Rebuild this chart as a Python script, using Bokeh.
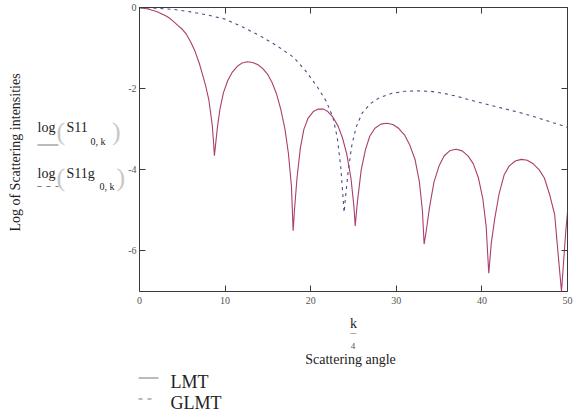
import math
from bokeh.plotting import figure
from bokeh.models import Range1d, LinearAxis, FixedTicker, Label, Arrow
from bokeh.embed import file_html
from bokeh.resources import INLINE

# ---------------- data ----------------
lmt_x = [0, 1, 2, 3, 3.4, 4, 4.5, 5, 5.4, 6, 6.5, 7, 7.3, 7.7, 8.1, 8.5, 8.68,
         8.75,
         9.1, 9.4, 9.8, 10.3, 10.8, 11.4, 12.0, 12.6, 13.2, 13.8, 14.4, 15.0,
         15.5, 16.0, 16.5, 17.0, 17.4, 17.75, 17.95,
         18.1, 18.4, 18.8, 19.2, 19.7, 20.3, 20.9, 21.5, 22.0, 22.6, 23.2,
         23.7, 24.2, 24.7, 25.05, 25.2,
         25.45, 25.9, 26.4, 26.9, 27.5, 28.2, 28.9, 29.6, 30.3, 31.0, 31.6,
         32.2, 32.7, 33.05, 33.25,
         33.5, 33.9, 34.4, 35.0, 35.6, 36.3, 37.0, 37.7, 38.4, 39.0, 39.6,
         40.1, 40.5, 40.8,
         41.1, 41.5, 42.0, 42.6, 43.2, 43.9, 44.6, 45.3, 46.0, 46.7, 47.3,
         47.9, 48.5, 49.0, 49.3, 49.6, 49.8, 50.0]
lmt_y = [0, -0.03, -0.09, -0.19, -0.24, -0.34, -0.44, -0.53, -0.63, -0.85,
         -1.08, -1.38, -1.6, -1.9, -2.27, -2.9, -3.4, -3.65,
         -2.95, -2.5, -2.1, -1.8, -1.6, -1.45, -1.36, -1.33, -1.35, -1.4,
         -1.5, -1.65, -1.85, -2.12, -2.5, -3.0, -3.6, -4.4, -5.5,
         -5.0, -4.2, -3.45, -3.0, -2.72, -2.56, -2.5, -2.5, -2.56, -2.7, -2.92,
         -3.2, -3.6, -4.2, -4.9, -5.38,
         -4.8, -4.0, -3.5, -3.17, -2.97, -2.87, -2.85, -2.88, -2.98, -3.15,
         -3.4, -3.75, -4.3, -5.0, -5.83,
         -5.5, -4.9, -4.3, -3.9, -3.65, -3.52, -3.49, -3.53, -3.66, -3.85,
         -4.2, -4.7, -5.4, -6.55,
         -5.8, -5.2, -4.6, -4.12, -3.9, -3.78, -3.74, -3.76, -3.85, -4.0,
         -4.2, -4.6, -5.1, -6.3, -7.0, -6.1, -5.5, -5.05]

glmt_x = [0, 2, 4, 6, 8, 10, 12, 14, 16, 18, 19.5, 20.8, 21.8, 22.6, 23.1,
          23.5, 23.75, 23.9, 24.1, 24.4, 24.8, 25.3, 26.0, 27.0, 28.0, 29.5,
          31.0, 32.5, 34.0, 35.5, 37.0, 38.5, 40.0, 41.5, 43.0, 44.5, 46.0,
          47.5, 49.0, 50.0]
glmt_y = [0, -0.01, -0.04, -0.1, -0.18, -0.28, -0.47, -0.68, -0.93, -1.22,
          -1.58, -1.96, -2.3, -2.7, -3.2, -3.9, -4.6, -5.05, -4.6, -4.0, -3.4,
          -2.95, -2.6, -2.36, -2.22, -2.11, -2.06, -2.05, -2.06, -2.11, -2.18,
          -2.27, -2.35, -2.43, -2.51, -2.59, -2.68, -2.78, -2.88, -2.95]

x_ticks = [0, 10, 20, 30, 40, 50]
y_ticks = [0, -2, -4, -6]
x_tick_labels = ["0", "10", "20", "30", "40", "50"]
y_tick_labels = ["0", "-2", "-4", "-6"]
X_MIN, X_MAX = 0, 50
Y_MIN, Y_MAX = -7, 0

# ---------------- layout (canvas pixels of the plot box) ----------------
W, H = 575, 413
BOX_L, BOX_R, BOX_T, BOX_B = 139.0, 567.0, 7.3, 291.0
XS = (BOX_R - BOX_L) / (X_MAX - X_MIN)
YS = (BOX_B - BOX_T) / (Y_MAX - Y_MIN)

p = figure(width=W, height=H, output_backend="svg", toolbar_location=None,
           x_range=Range1d(X_MIN - BOX_L / XS, X_MAX + (W - BOX_R) / XS),
           y_range=Range1d(Y_MIN - (H - BOX_B) / YS, Y_MAX + BOX_T / YS),
           x_axis_type=None, y_axis_type=None,
           min_border_left=0, min_border_right=0, min_border_top=0,
           min_border_bottom=0)
p.background_fill_color = "white"
p.border_fill_color = "white"
p.outline_line_color = None
p.grid.visible = False

SERIF = "Liberation Serif"
AX_COL = "#3a3a3a"

def make_axis(ticks, labels, loc, bounds, show_labels, standoff):
    ax = LinearAxis(ticker=FixedTicker(ticks=ticks), fixed_location=loc,
                    bounds=bounds)
    ax.major_label_overrides = {t: l for t, l in zip(ticks, labels)}
    ax.axis_line_color = AX_COL
    ax.major_tick_line_color = AX_COL
    ax.major_tick_in = 6
    ax.major_tick_out = 0
    ax.minor_tick_line_color = None
    ax.major_label_text_font = SERIF
    ax.major_label_text_font_size = "10px"
    ax.major_label_standoff = standoff
    if show_labels:
        ax.major_label_text_color = "#555555"
    else:
        ax.major_label_text_color = None
    return ax

p.add_layout(make_axis(x_ticks, x_tick_labels, Y_MIN, (X_MIN, X_MAX), True, 5), "below")
p.add_layout(make_axis(y_ticks, y_tick_labels, X_MIN, (Y_MIN, Y_MAX), True, 3), "left")
p.add_layout(make_axis(x_ticks, x_tick_labels, Y_MAX, (X_MIN, X_MAX), False, 0), "above")
p.add_layout(make_axis(y_ticks, y_tick_labels, X_MAX, (Y_MIN, Y_MAX), False, 0), "right")

# ---------------- series ----------------
p.line(glmt_x, glmt_y, line_color="#4a4a86", line_width=1.1, line_dash="3 4")
p.line(lmt_x, lmt_y, line_color="#ac3d6c", line_width=1.1)

# ---------------- canvas-pixel helpers for annotations ----------------
def dx(px):
    return X_MIN + (px - BOX_L) / XS

def dy(py):
    return Y_MAX - (py - BOX_T) / YS

def text(px, py, s, size, color="#222222", align="left", angle=0.0,
         style="normal"):
    p.add_layout(Label(x=dx(px), y=dy(py), text=s, text_font=SERIF,
                       text_font_size=f"{size}px", text_color=color,
                       text_align=align, text_baseline="middle", angle=angle,
                       text_font_style=style))

def seg(px0, py0, px1, py1, color="#666666", dash="solid", width=1.0):
    p.add_layout(Arrow(end=None, start=None, x_start=dx(px0), y_start=dy(py0),
                       x_end=dx(px1), y_end=dy(py1), line_color=color,
                       line_width=width, line_dash=dash))

# y axis title
text(15, 152, "Log of Scattering intensities", 14, align="center",
     angle=math.pi / 2)

# series keys by the y axis
text(37, 126.5, "log", 14)
text(56, 130.5, "(", 26, color="#c8c8c8")
text(66, 126.5, "S11", 14)
text(90, 140.5, "0, k", 10)
text(111.5, 130.5, ")", 26, color="#c8c8c8")
seg(37, 144.5, 58, 144.5, color="#777777")

text(37, 172.5, "log", 14)
text(56, 177, "(", 26, color="#c8c8c8")
text(66, 172.5, "S11g", 14)
text(99, 186, "0, k", 10)
text(116, 177, ")", 26, color="#c8c8c8")
seg(37, 186, 58, 186, color="#777777", dash="4 5")

# x axis title
text(353, 323, "k", 14, align="center")
seg(350, 333, 356, 333, color="#aaaaaa")
text(352.5, 345, "4", 9, color="#555555", align="center")
text(350, 359, "Scattering angle", 14, align="center")

# legend
seg(138, 377.5, 158, 377.5, color="#777777")
text(170, 381, "LMT", 18)
seg(138, 398.5, 155, 398.5, color="#777777", dash="4 5")
text(170, 402, "GLMT", 18)

open("out.html", "w").write(file_html(p, INLINE))
